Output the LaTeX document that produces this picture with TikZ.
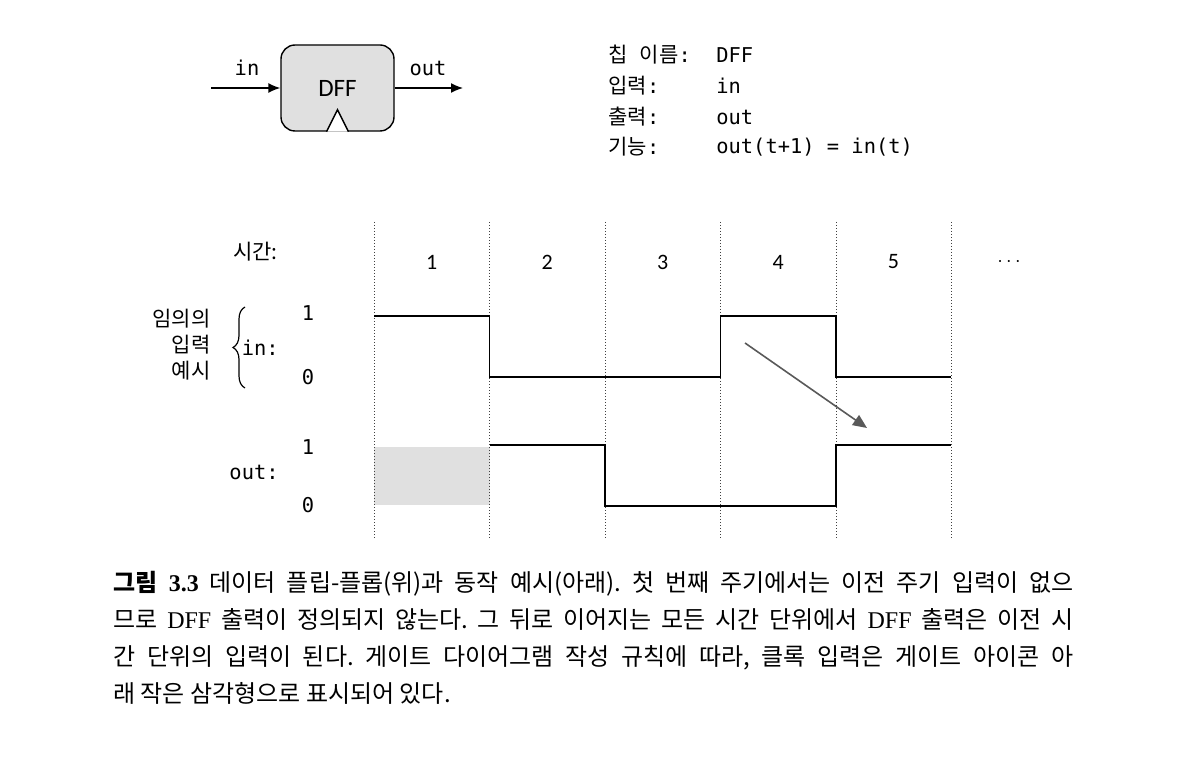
\documentclass[tikz,border=0pt]{standalone}
\usepackage{fontspec}
\setmonofont{DejaVu Sans Mono}
\newfontfamily\kr{Noto Sans CJK KR}
\newfontfamily\dffsans{Carlito}
\newfontfamily\lserif{Liberation Serif}
\usetikzlibrary{arrows.meta,decorations.pathreplacing,calc}

\tikzset{
    lbl/.style={font=\ttfamily\fontsize{10.2}{12}\selectfont, inner sep=0pt},
    num/.style={font=\dffsans\fontsize{11}{12}\selectfont, inner sep=0pt},
    wave/.style={line width=0.9pt},
    tick/.style={densely dotted, line width=0.5pt, black!75}
}
\newcommand{\hg}[1]{{\kr\fontsize{10.5}{12}\selectfont #1}}

\begin{document}
\begin{tikzpicture}[x=0.5pt,y={(0pt,-0.5pt)}]
                \useasboundingbox (0,0) rectangle (1190,770);
                % chip
                \node[draw, fill=black!12, rounded corners=7pt, line width=0.7pt, minimum width=56.5pt, minimum height=43pt, font=\dffsans\fontsize{12.5}{12}\selectfont] (dff) at (337.5,88) {DFF};
                \draw[fill=white, line width=0.7pt] ($(dff.south)+(-11,0)$) -- ($(dff.south)+(0,-22)$) -- ($(dff.south)+(11,0)$);
                \coordinate (inend) at (211,88);
                \coordinate (outend) at (463,88);
                \draw[-{Latex[length=6pt,width=5pt]}, line width=0.7pt] (inend) -- (dff.west);
                \draw[-{Latex[length=6pt,width=5pt]}, line width=0.7pt] (dff.east) -- (outend);
                \node[lbl] (inlbl) at (247,68) {in};
                \node[lbl] (outlbl) at (428,68) {out};
                % spec
                \node[lbl, anchor=west] (k1) at (608,55) {\hg{칩} \hg{이름}:};
                \node[lbl, anchor=west] (k2) at (608,86) {\hg{입력}:};
                \node[lbl, anchor=west] (k3) at (608,117) {\hg{출력}:};
                \node[lbl, anchor=west] (k4) at (608,147) {\hg{기능}:};
                \node[lbl, anchor=west] (v1) at (716,55) {DFF};
                \node[lbl, anchor=west] (v2) at (716,86) {in};
                \node[lbl, anchor=west] (v3) at (716,117) {out};
                \node[lbl, anchor=west] (v4) at (716,147) {out(t+1) = in(t)};
                % timing
                \fill[black!12] (374,447) rectangle (489.5,505);
                \foreach \x in {374,489.5,605,720.5,836,951}
                    \draw[tick] (\x,222) -- (\x,538);
                \foreach \x/\t [count=\i] in {431.75/1,547.25/2,662.75/3,778.25/4,893.5/5}
                    \node[num] (t\i) at (\x,262) {\t};
                \node[inner sep=0pt] (t6) at (1009,262) {$\cdots$};
                \node[anchor=east, inner sep=0pt] (time) at (278,252) {\hg{시간:}};
                \node[lbl] (in1) at (308,313) {1};
                \node[lbl] (in0) at (308,377) {0};
                \node[lbl, anchor=east] (insig) at (279,348) {in:};
                \draw[decorate, decoration={brace, amplitude=6pt}, line width=0.6pt] (245,388) -- (245,307);
                \node[anchor=east, align=right, inner sep=0pt, font=\kr\fontsize{10.5}{13}\selectfont] (note) at (211,345) {임의의\\입력\\예시};
                \node[lbl] (out1) at (308,447) {1};
                \node[lbl] (out0) at (308,505) {0};
                \node[lbl, anchor=east] (outsig) at (279,472) {out:};
                \draw[wave] (374,316) -- (489.5,316) -- (489.5,377) -- (720.5,377) -- (720.5,316) -- (836,316) -- (836,377) -- (951,377);
                \draw[wave] (489.5,445) -- (605,445) -- (605,506) -- (836,506) -- (836,445) -- (951,445);
                \coordinate (hfrom) at (745,343);
                \coordinate (hto) at (867,428);
                \draw[-{Triangle[length=7pt,width=6pt]}, black!65, line width=0.8pt] (hfrom) -- (hto);
                % caption
                \node[anchor=north west, inner sep=0pt, text width=480pt, align=justify, font=\kr\fontsize{12}{18.5}\selectfont\frenchspacing] (caption) at (113,571) {{\bfseries 그림 {\lserif 3.3}} 데이터 플립-플롭(위)과 동작 예시(아래). 첫 번째 주기에서는 이전 주기 입력이 없으\linebreak 므로 {\lserif DFF} 출력이 정의되지 않는다. 그 뒤로 이어지는 모든 시간 단위에서 {\lserif DFF} 출력은 이전 시\linebreak 간 단위의 입력이 된다. 게이트 다이어그램 작성 규칙에 따라, 클록 입력은 게이트 아이콘 아\linebreak 래 작은 삼각형으로 표시되어 있다.};
\end{tikzpicture}
\end{document}
